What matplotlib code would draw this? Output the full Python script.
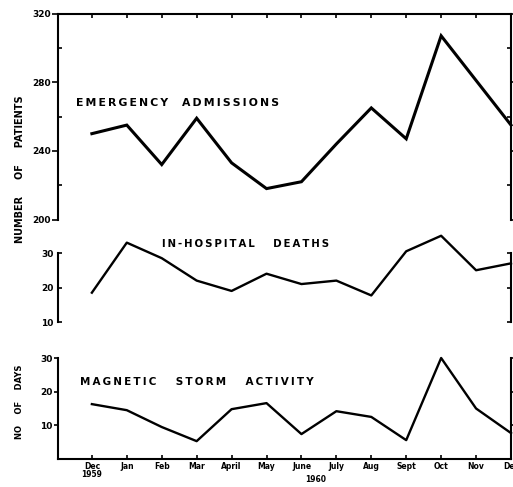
import matplotlib
matplotlib.use("Agg")
import matplotlib.pyplot as plt
from matplotlib.ticker import MultipleLocator

# ---- data ----
months = ["Dec\n1959", "Jan", "Feb", "Mar", "April", "May", "June",
          "July", "Aug", "Sept", "Oct", "Nov", "Dec"]
emergency = [250, 255, 232, 259, 233, 218, 222, 244, 265, 247, 307, 281, 255]
deaths = [18.5, 33, 28.5, 22, 19, 24, 21, 22, 17.7, 30.5, 35, 25, 27]
storm = [16.3, 14.5, 9.5, 5.3, 14.8, 16.6, 7.4, 14.2, 12.5, 5.6, 30, 15, 7.7]
emergency_label = "EMERGENCY  ADMISSIONS"
deaths_label = "IN-HOSPITAL   DEATHS"
storm_label = "MAGNETIC   STORM   ACTIVITY"
ylabel_top = "NUMBER     OF     PATIENTS"
ylabel_bottom = "NO    OF    DAYS"
year_label = "1960"

x = list(range(len(months)))
W, H = 513, 487


def spaced(s):
    return "\u2009".join(s)


fig = plt.figure(figsize=(W / 100, H / 100), dpi=100)
left = 58 / W
width = (511 - 58) / W
xlim = (-0.97, 12)

# ---- top panel ----
ax1 = fig.add_axes([left, 1 - 219.5 / H, width, (219.5 - 13.5) / H])
ax1.plot(x, emergency, color="black", lw=2.2, clip_on=False,
         solid_joinstyle="miter")
ax1.set_xlim(*xlim)
ax1.set_ylim(200, 320)
ax1.spines["bottom"].set_visible(False)
for s in ax1.spines.values():
    s.set_linewidth(1.5)
ax1.set_xticks(x)
ax1.tick_params(axis="x", bottom=False, labelbottom=False, top=True,
                direction="in", length=3, width=1.2)
ax1.set_yticks([200, 240, 280, 320])
ax1.yaxis.set_minor_locator(MultipleLocator(20))
ax1.tick_params(axis="y", which="major", direction="out", length=4, width=1.2,
                right=True, labelsize=6.5, pad=1)
ax1.tick_params(axis="y", which="minor", direction="in", length=3, width=1.2,
                right=True)
for lab in ax1.get_yticklabels():
    lab.set_fontweight("bold")
ax1.text(76, H - 103, spaced(emergency_label), transform=None, fontsize=7.8,
         fontweight="bold", va="center", ha="left")

# ---- middle panel ----
ax2 = fig.add_axes([left, 1 - 322 / H, width, (322 - 232.3) / H])
ax2.plot(x, deaths, color="black", lw=1.7, clip_on=False)
ax2.set_xlim(*xlim)
ax2.set_ylim(10, 36)
ax2.spines["top"].set_visible(False)
ax2.spines["bottom"].set_visible(False)
ax2.spines["left"].set_bounds(10, 30)
ax2.spines["right"].set_bounds(10, 30)
for s in ax2.spines.values():
    s.set_linewidth(1.5)
ax2.set_xticks([])
ax2.set_yticks([10, 20, 30])
ax2.tick_params(axis="y", direction="in", length=3, width=1.2, right=True,
                labelsize=6.5, pad=3)
for lab in ax2.get_yticklabels():
    lab.set_fontweight("bold")
ax2.text(162, H - 244, spaced(deaths_label), transform=None, fontsize=7.3,
         fontweight="bold", va="center", ha="left")

# ---- bottom panel ----
ax3 = fig.add_axes([left, 1 - 459 / H, width, (459 - 358) / H])
ax3.plot(x, storm, color="black", lw=1.7, clip_on=False)
ax3.set_xlim(*xlim)
ax3.set_ylim(0, 30)
ax3.spines["top"].set_visible(False)
for s in ax3.spines.values():
    s.set_linewidth(1.5)
ax3.set_xticks(x)
ax3.set_xticklabels(months, linespacing=0.9)
ax3.tick_params(axis="x", direction="in", length=3, width=1.2, labelsize=5.5,
                pad=2)
ax3.set_yticks([10, 20, 30])
ax3.tick_params(axis="y", direction="out", length=3, width=1.2, right=True,
                labelsize=6.5, pad=1)
for lab in ax3.get_xticklabels() + ax3.get_yticklabels():
    lab.set_fontweight("bold")
ax3.text(80, H - 382, spaced(storm_label), transform=None, fontsize=7.5,
         fontweight="bold", va="center", ha="left")

# ---- outer labels ----
fig.text(20 / W, 1 - 169 / H, ylabel_top, rotation=90, fontsize=7,
         fontweight="bold", ha="center", va="center")
fig.text(20 / W, 1 - 402 / H, ylabel_bottom, rotation=90, fontsize=6,
         fontweight="bold", ha="center", va="center")
fig.text(316 / W, 1 - 479 / H, year_label, fontsize=5.5, fontweight="bold",
         ha="center", va="center")

fig.savefig("out.png", dpi=100)
